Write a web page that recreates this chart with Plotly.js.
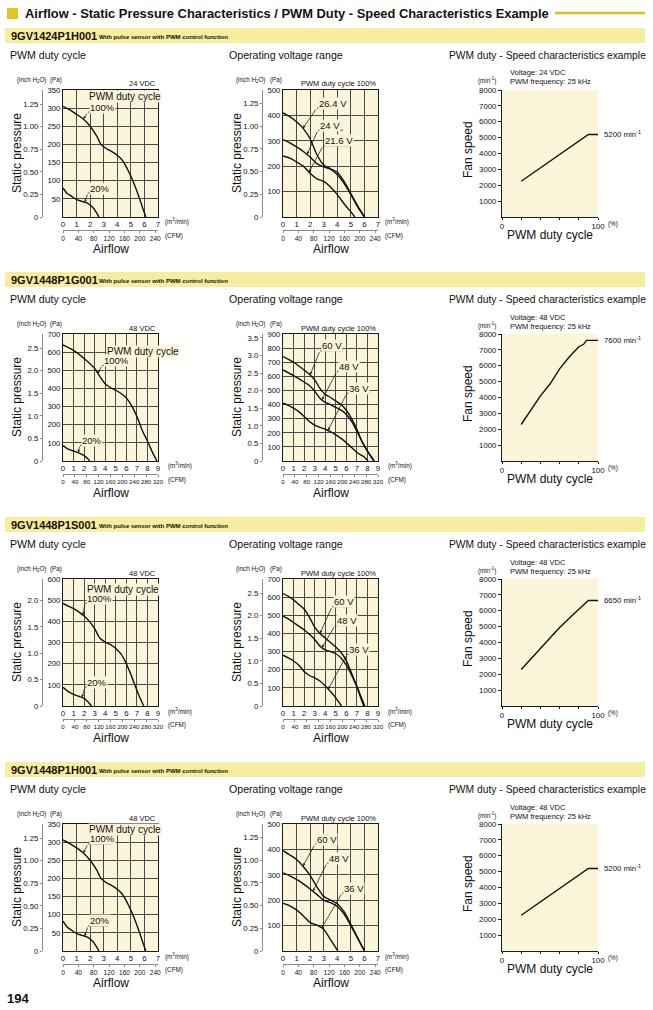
<!DOCTYPE html>
<html><head><meta charset="utf-8">
<script src="https://cdn.plot.ly/plotly-3.0.1.min.js"></script>
<style>html,body{margin:0;padding:0;background:#fff;overflow:hidden}#chart{width:653px;height:1010px}</style>
</head><body><div id="chart"></div>
<script>
// ================= DATA =================
const pageTitle = 'Airflow - Static Pressure Characteristics / PWM Duty - Speed Characteristics Example';
const modelNames = ['9GV1424P1H001', '9GV1448P1G001', '9GV1448P1S001', '9GV1448P1H001'];
const modelNote = 'With pulse sensor with PWM control function';
const ratedVoltages = ['24 VDC', '48 VDC', '48 VDC', '48 VDC'];
const panelTitles = ['PWM duty cycle', 'Operating voltage range', 'PWM duty - Speed characteristics example'];
const pageNumber = '194';

// tick labels
const flowTicks7 = [0, 1, 2, 3, 4, 5, 6, 7];
const flowTicks9 = [0, 1, 2, 3, 4, 5, 6, 7, 8, 9];
const cfmTicks7 = [0, 40, 80, 120, 160, 200, 240];
const cfmTicks9 = [0, 40, 80, 120, 160, 200, 240, 280, 320];
const paTicks350 = [50, 100, 150, 200, 250, 300, 350];
const paTicks500 = [100, 200, 300, 400, 500];
const paTicks600 = [100, 200, 300, 400, 500, 600];
const paTicks700 = [100, 200, 300, 400, 500, 600, 700];
const paTicks900 = [100, 200, 300, 400, 500, 600, 700, 800, 900];
const inchTicksQ = [0, 0.25, 0.5, 0.75, 1, 1.25];
const inchLabelsQ = ['0', '0.25', '0.50', '0.75', '1.00', '1.25'];
const inchTicks20 = [0, 0.5, 1, 1.5, 2];
const inchLabels20 = ['0', '0.5', '1.0', '1.5', '2.0'];
const inchTicks25 = [0, 0.5, 1, 1.5, 2, 2.5];
const inchLabels25 = ['0', '0.5', '1.0', '1.5', '2.0', '2.5'];
const inchTicks35 = [0, 0.5, 1, 1.5, 2, 2.5, 3, 3.5];
const inchLabels35 = ['0', '0.5', '1.0', '1.5', '2.0', '2.5', '3.0', '3.5'];
const speedTicks = [1000, 2000, 3000, 4000, 5000, 6000, 7000, 8000];
const dutyTicks = [0, 20, 40, 60, 80, 100];
const dutyLabels = ['0', '', '', '', '', '100'];

// Row 1: 9GV1424P1H001  (airflow m3/min, static pressure Pa)
const r1Duty100Flow = [0, 0.5, 1, 1.5, 2, 2.5, 2.8, 3.2, 3.6, 4, 4.4, 4.8, 5.2, 5.6, 5.9, 6.1];
const r1Duty100Pa   = [305, 295, 283, 270, 250, 222, 200, 188, 180, 170, 155, 128, 95, 55, 22, 0];
const r1Duty20Flow  = [0, 0.3, 0.6, 1, 1.4, 1.8, 2.2, 2.5, 2.65];
const r1Duty20Pa    = [80, 65, 58, 48, 43, 38, 26, 10, 0];
const r1V264Flow = [0, 0.5, 1, 1.5, 2, 2.5, 3, 3.5, 4, 4.5, 5, 5.5, 6.02];
const r1V264Pa   = [410, 395, 375, 348, 308, 245, 205, 190, 176, 140, 92, 44, 0];
const r1V24Flow  = [0, 0.5, 1, 1.5, 2, 2.5, 3, 3.5, 4, 4.5, 5, 5.5, 6];
const r1V24Pa    = [305, 292, 276, 258, 236, 210, 197, 188, 166, 132, 88, 40, 0];
const r1V216Flow = [0, 0.5, 1, 1.5, 2, 2.5, 3, 3.5, 4, 4.5, 5, 5.3];
const r1V216Pa   = [240, 232, 217, 200, 172, 150, 140, 118, 88, 52, 20, 0];
const r1SpeedDuty = [20, 90, 100];
const r1SpeedRpm  = [2250, 5200, 5200];

// Row 2: 9GV1448P1G001
const r2Duty100Flow = [0, 1, 2, 3, 3.5, 4, 4.5, 5, 5.5, 6, 6.5, 7, 7.5, 8, 8.5, 8.9];
const r2Duty100Pa   = [640, 610, 565, 510, 465, 425, 405, 390, 372, 348, 305, 245, 170, 110, 45, 0];
const r2Duty20Flow  = [0, 0.5, 1, 1.5, 2, 2.3, 2.55];
const r2Duty20Pa    = [85, 65, 55, 45, 30, 15, 0];
const r2V60Flow = [0, 1, 2, 2.5, 3, 3.5, 4, 4.5, 5, 5.5, 6, 6.5, 7, 7.5, 8, 8.6];
const r2V60Pa   = [740, 700, 645, 615, 575, 515, 472, 450, 425, 400, 360, 300, 225, 135, 70, 0];
const r2V48Flow = [0, 1, 2, 2.5, 3, 3.5, 4, 4.5, 5, 5.5, 6, 6.5, 7, 7.5, 8, 8.65];
const r2V48Pa   = [645, 605, 560, 535, 495, 445, 415, 400, 380, 360, 330, 280, 210, 135, 70, 0];
const r2V36Flow = [0, 0.5, 1, 1.5, 2, 2.5, 3, 3.5, 4, 4.5, 5, 5.5, 6, 6.5, 7, 7.5, 7.8, 8.05];
const r2V36Pa   = [410, 395, 375, 350, 315, 280, 255, 238, 225, 208, 185, 160, 130, 95, 60, 38, 22, 0];
const r2SpeedDuty = [20, 30, 40, 50, 55, 60, 70, 80, 85, 88, 100];
const r2SpeedRpm  = [2300, 3200, 4100, 4850, 5300, 5800, 6550, 7200, 7350, 7600, 7600];

// Row 3: 9GV1448P1S001
const r3Duty100Flow = [0, 0.5, 1, 1.5, 2, 2.5, 3, 3.5, 4, 4.5, 5, 5.5, 6, 6.5, 7, 7.3, 7.65];
const r3Duty100Pa   = [485, 472, 460, 445, 425, 400, 365, 320, 302, 290, 272, 245, 200, 140, 75, 38, 0];
const r3Duty20Flow  = [0, 0.5, 1, 1.5, 2, 2.4, 2.7];
const r3Duty20Pa    = [88, 68, 55, 46, 36, 18, 0];
const r3V60Flow = [0, 0.5, 1, 1.5, 2, 2.5, 3, 3.5, 4, 4.5, 5, 5.5, 6, 6.5, 7, 7.4, 7.75];
const r3V60Pa   = [620, 605, 585, 560, 535, 490, 435, 400, 375, 350, 325, 295, 250, 180, 110, 50, 0];
const r3V48Flow = [0, 0.5, 1, 1.5, 2, 2.5, 3, 3.5, 4, 4.5, 5, 5.5, 6, 6.5, 7, 7.3, 7.65];
const r3V48Pa   = [495, 480, 460, 440, 420, 395, 367, 330, 310, 300, 288, 265, 225, 170, 105, 55, 0];
const r3V36Flow = [0, 0.5, 1, 1.5, 2, 2.5, 3, 3.5, 4, 4.5, 5, 5.3, 5.55];
const r3V36Pa   = [280, 265, 248, 225, 190, 168, 155, 138, 112, 80, 45, 20, 0];
const r3SpeedDuty = [20, 40, 60, 80, 90, 100];
const r3SpeedRpm  = [2300, 3600, 4950, 6100, 6650, 6650];

// Row 4: 9GV1448P1H001
const r4Duty100Flow = [0, 0.5, 1, 1.5, 2, 2.5, 2.8, 3.2, 3.6, 4, 4.4, 4.8, 5.2, 5.6, 5.9, 6.1];
const r4Duty100Pa   = [306, 296, 284, 270, 250, 222, 200, 188, 180, 170, 155, 128, 95, 55, 22, 0];
const r4Duty20Flow  = [0, 0.3, 0.6, 1, 1.4, 1.8, 2.2, 2.5, 2.65];
const r4Duty20Pa    = [82, 66, 58, 48, 43, 38, 26, 10, 0];
const r4V60Flow = [0, 0.5, 1, 1.5, 2, 2.5, 3, 3.5, 4, 4.5, 5, 5.5, 6.02];
const r4V60Pa   = [395, 378, 360, 332, 298, 252, 215, 200, 186, 155, 105, 52, 0];
const r4V48Flow = [0, 0.5, 1, 1.5, 2, 2.5, 3, 3.5, 4, 4.5, 5, 5.5, 6];
const r4V48Pa   = [308, 296, 282, 264, 244, 222, 200, 190, 175, 145, 100, 50, 0];
const r4V36Flow = [0, 0.5, 1, 1.5, 2, 2.5, 3, 3.5, 3.8, 4.05];
const r4V36Pa   = [188, 178, 162, 138, 112, 102, 86, 45, 20, 0];
const r4SpeedDuty = [20, 90, 100];
const r4SpeedRpm  = [2250, 5200, 5200];

const CFM_PER_M3 = 35.3147;
const PA_PER_INCH = 249.089;

// ================= FONT PICK (narrowest installed sans for numbers) =================
const SANS = 'Liberation Sans, Arial, Helvetica, sans-serif';
const ctx = document.createElement('canvas').getContext('2d');
function width(font, s) { ctx.font = font; return ctx.measureText(s).width; }
function installed(name) {
  const s = '0123456789 WMmil Static';
  return Math.abs(width('40px "' + name + '", monospace', s) - width('40px monospace', s)) > 0.5 &&
         Math.abs(width('40px "' + name + '", serif', s) - width('40px serif', s)) > 0.5;
}
const narrowCandidates = ['Liberation Sans Narrow', 'Noto Sans ExtraCondensed', 'Noto Sans Condensed',
  'Noto Sans SemiCondensed', 'DejaVu Sans Condensed', 'Liberation Sans'];
let NARROW = 'Liberation Sans', digitEm = 0.556;
narrowCandidates.forEach(f => {
  if (!installed(f)) return;
  const w = width('100px "' + f + '"', '0123456789') / 1000;
  if (w < digitEm - 0.005) { digitEm = w; NARROW = f; }
});
const clamp = (v, a, b) => Math.max(a, Math.min(b, v));
const TICK_SIZE = clamp(3.9 / digitEm, 7.8, 9.5);
const CFM_SIZE7 = clamp(3.55 / digitEm, 6.6, 9);
const CFM_SIZE9 = clamp(3.4 / digitEm, 6.2, 8.5);
const SMALL = clamp(3.0 / digitEm, 6.3, 7.5);

// ================= LAYOUT HELPERS =================
const W = 653, H = 1010;
const PX = x => x / W, PY = y => 1 - y / H;
const bandTops = [28, 272, 517, 762];
const colL = [63, 158], colM = [283, 378], colR = [502, 598];

const CREAM = '#fbf6da', GRID = '#4a4a4a', FRAME = '#1a1a1a', AXG = '#8a8a8a', INK = '#111';
const TICKF = {family: NARROW, size: TICK_SIZE, color: INK};

const traces = [], annotations = [], shapes = [];
const layout = {
  width: W, height: H, margin: {l: 0, r: 0, t: 0, b: 0},
  paper_bgcolor: '#ffffff', plot_bgcolor: CREAM, showlegend: false,
  annotations, shapes
};
let axN = 0;
const axKey = (p, n) => n === 1 ? p + 'axis' : p + 'axis' + n;
const axId = (p, n) => n === 1 ? p : p + n;

function interp(xs, ys, x) {
  for (let i = 1; i < xs.length; i++) {
    if (x <= xs[i]) { const t = (x - xs[i - 1]) / (xs[i] - xs[i - 1]); return ys[i - 1] + t * (ys[i] - ys[i - 1]); }
  }
  return ys[ys.length - 1];
}
function txt(text, x, y, opt) {
  annotations.push(Object.assign({text, x: PX(x), y: PY(y), xref: 'paper', yref: 'paper', showarrow: false,
    xanchor: 'left', yanchor: 'middle', font: {family: SANS, size: 11, color: INK}}, opt || {}));
}

function pqChart(o) {
  const bt = bandTops[o.row], top = bt + 62, bot = bt + 189;
  const [cl, cr] = o.col;
  const n = ++axN, nc = ++axN, ni = ++axN;
  const xid = axId('x', n), yid = axId('y', n);
  const dom = [PX(cl), PX(cr)], ydom = [PY(bot), PY(top)];
  const cfmFont = {family: NARROW, size: o.xmax > 7 ? CFM_SIZE9 : CFM_SIZE7, color: INK};
  layout[axKey('x', n)] = {domain: dom, range: [0, o.xmax], anchor: yid, tickmode: 'array',
    tickvals: o.flowTicks, ticktext: o.flowTicks.map(String), showgrid: true, gridcolor: GRID, gridwidth: 1,
    showline: true, mirror: true, linecolor: FRAME, linewidth: 1, ticks: '', tickangle: 0, tickfont: TICKF, zeroline: false};
  layout[axKey('y', n)] = {domain: ydom, range: [0, o.ymax], anchor: xid, tickmode: 'array',
    tickvals: o.paTicks, ticktext: o.paTicks.map(String), showgrid: true, gridcolor: GRID, gridwidth: 1,
    showline: true, mirror: true, linecolor: FRAME, linewidth: 1, ticks: '', tickfont: TICKF, zeroline: false};
  layout[axKey('x', nc)] = {domain: dom, overlaying: xid, anchor: 'free', position: PY(bt + 202), side: 'bottom',
    range: [0, Math.max(o.xmax * CFM_PER_M3, o.cfmTicks[o.cfmTicks.length - 1])], tickmode: 'array',
    tickvals: o.cfmTicks, ticktext: o.cfmTicks.map(String), showgrid: false, zeroline: false, showline: true,
    linecolor: AXG, linewidth: 1, ticks: 'outside', ticklen: 2, tickcolor: AXG, tickangle: 0, tickfont: cfmFont};
  layout[axKey('y', ni)] = {domain: ydom, overlaying: yid, anchor: 'free', position: PX(cl - 21), side: 'left',
    range: [0, o.inchMax], tickmode: 'array', tickvals: o.inchTicks, ticktext: o.inchLabels, showgrid: false,
    zeroline: false, showline: true, linecolor: AXG, linewidth: 1, ticks: 'outside', ticklen: 2, tickcolor: AXG, tickfont: TICKF};
  traces.push({type: 'scatter', mode: 'lines', x: [], y: [], xaxis: axId('x', nc), yaxis: yid, hoverinfo: 'skip'});
  traces.push({type: 'scatter', mode: 'lines', x: [], y: [], xaxis: xid, yaxis: axId('y', ni), hoverinfo: 'skip'});
  o.series.forEach(s => traces.push({type: 'scatter', mode: 'lines', x: s[0], y: s[1], xaxis: xid, yaxis: yid,
    line: {color: INK, width: 1.4, shape: 'spline', smoothing: 0.6}, hoverinfo: 'skip'}));

  if (o.heading) annotations.push({text: o.heading.text, x: o.heading.x, y: o.heading.y, xref: xid, yref: yid,
    xanchor: 'left', yanchor: 'middle', showarrow: false, bgcolor: CREAM, borderpad: 0,
    font: {family: SANS, size: 10, color: INK}});
  o.labels.forEach(l => {
    const s = o.series[l.s];
    shapes.push({type: 'line', xref: xid, yref: yid, x0: l.x0, x1: l.x1, y0: l.y, y1: l.y, line: {color: '#222', width: 0.8}});
    annotations.push({text: l.text, x: l.x0, y: l.y, xref: xid, yref: yid, xanchor: 'left', yanchor: 'bottom',
      xshift: 1, yshift: -1.5, showarrow: false, bgcolor: CREAM, borderpad: 0, font: {family: SANS, size: 9.5, color: INK}});
    annotations.push({text: '', x: l.tx, y: interp(s[0], s[1], l.tx), xref: xid, yref: yid, ax: l.x0, ay: l.y,
      axref: xid, ayref: yid, showarrow: true, arrowhead: 2, arrowsize: 0.7, arrowwidth: 0.8, arrowcolor: '#222', standoff: 0});
  });
  // axis titles and units
  txt('Static pressure', cl - 46, bt + 125, {textangle: -90, xanchor: 'center', font: {family: SANS, size: 12, color: INK}});
  txt('Airflow', (cl + cr) / 2, bt + 221, {xanchor: 'center', font: {family: SANS, size: 12, color: INK}});
  txt('(inch H<sub>2</sub>O)', cl - 32, bt + 52, {xanchor: 'center', font: {family: NARROW, size: SMALL, color: INK}});
  txt('(Pa)', cl - 7, bt + 52, {xanchor: 'center', font: {family: NARROW, size: SMALL, color: INK}});
  const ux = o.xmax > 7 ? 8 : 5;
  txt('(m<sup>3</sup>/min)', cr + ux, bt + 194, {font: {family: NARROW, size: SMALL, color: INK}});
  txt('(CFM)', cr + ux, bt + 208, {font: {family: NARROW, size: SMALL, color: INK}});
  txt(o.corner, cr, bt + 56, {xanchor: 'right', font: {family: SANS, size: 7.5, color: INK}});
}

function speedChart(o) {
  const bt = bandTops[o.row], top = bt + 62, bot = bt + 189;
  const [cl, cr] = colR;
  const n = ++axN;
  const xid = axId('x', n), yid = axId('y', n);
  layout[axKey('x', n)] = {domain: [PX(cl), PX(cr)], range: [0, 100], anchor: yid, tickmode: 'array',
    tickvals: dutyTicks, ticktext: dutyLabels, showgrid: false, zeroline: false, showline: true, linecolor: FRAME,
    linewidth: 1, ticks: 'outside', ticklen: 2, tickcolor: FRAME, tickangle: 0, tickfont: TICKF};
  layout[axKey('y', n)] = {domain: [PY(bot), PY(top)], range: [0, 8000], anchor: xid, tickmode: 'array',
    tickvals: speedTicks, ticktext: speedTicks.map(String), showgrid: false, zeroline: false, showline: true,
    linecolor: FRAME, linewidth: 1, ticks: 'outside', ticklen: 3, tickcolor: FRAME, tickfont: TICKF};
  traces.push({type: 'scatter', mode: 'lines', x: o.duty, y: o.rpm, xaxis: xid, yaxis: yid,
    line: {color: INK, width: 1.4}, hoverinfo: 'skip'});
  const last = o.rpm[o.rpm.length - 1];
  annotations.push({text: last + ' min<sup>-1</sup>', x: o.duty[o.duty.length - 1], y: last, xref: xid, yref: yid,
    xanchor: 'left', yanchor: 'middle', xshift: 4, showarrow: false, font: {family: NARROW, size: TICK_SIZE, color: INK}});
  txt('Voltage: ' + o.voltage, cl + 6, bt + 45, {font: {family: SANS, size: 7.5, color: INK}});
  txt('PWM frequency: 25 kHz', cl + 6, bt + 54, {font: {family: SANS, size: 7.5, color: INK}});
  txt('(min<sup>-1</sup>)', cl - 15, bt + 53, {xanchor: 'center', font: {family: NARROW, size: SMALL, color: INK}});
  txt('(%)', cr + 8, bt + 196, {font: {family: NARROW, size: SMALL, color: INK}});
  txt('Fan speed', cl - 34, bt + 122, {textangle: -90, xanchor: 'center', font: {family: SANS, size: 12, color: INK}});
  txt('PWM duty cycle', (cl + cr) / 2, bt + 207, {xanchor: 'center', font: {family: SANS, size: 12, color: INK}});
}

// ================= HEADER & BANDS =================
shapes.push({type: 'rect', xref: 'paper', yref: 'paper', x0: PX(7), x1: PX(18), y0: PY(19), y1: PY(8), fillcolor: '#e6c41c', line: {width: 0}});
txt('<b>' + pageTitle + '</b>', 23, 13.5, {font: {family: SANS, size: 12.9, color: INK}});
shapes.push({type: 'line', xref: 'paper', yref: 'paper', x0: PX(555), x1: PX(645), y0: PY(13), y1: PY(13), line: {color: '#d9c01c', width: 2.5}});
bandTops.forEach((bt, i) => {
  shapes.push({type: 'rect', xref: 'paper', yref: 'paper', layer: 'below', x0: PX(5), x1: PX(645), y0: PY(bt + 15), y1: PY(bt), fillcolor: '#f6ed9f', line: {width: 0}});
  txt('<b>' + modelNames[i] + '</b>', 9, bt + 8, {font: {family: SANS, size: 11, color: INK}});
  txt('<b>' + modelNote + '</b>', 97, bt + 8.5, {font: {family: SANS, size: 6, color: INK}});
  txt(panelTitles[0], 8, bt + 27, {font: {family: SANS, size: 10.6, color: INK}});
  txt(panelTitles[1], 227, bt + 27, {font: {family: SANS, size: 10.6, color: INK}});
  txt(panelTitles[2], 447, bt + 27, {font: {family: SANS, size: 10.3, color: INK}});
});
txt('<b>' + pageNumber + '</b>', 5, 998, {font: {family: NARROW, size: clamp(6.2 / digitEm, 13, 15), color: INK}});

// ================= CHARTS =================
const INCH_350 = 350 / PA_PER_INCH;
// Row 1
pqChart({row: 0, col: colL, xmax: 7, ymax: 350, flowTicks: flowTicks7, cfmTicks: cfmTicks7, paTicks: paTicks350,
  inchMax: INCH_350, inchTicks: inchTicksQ, inchLabels: inchLabelsQ, corner: ratedVoltages[0],
  series: [[r1Duty100Flow, r1Duty100Pa], [r1Duty20Flow, r1Duty20Pa]],
  heading: {text: 'PWM duty cycle', x: 1.84, y: 331},
  labels: [{text: '100%', x0: 1.84, x1: 3.68, y: 289, s: 0, tx: 1.5}, {text: '20%', x0: 1.84, x1: 3.32, y: 66, s: 1, tx: 1.6}]});
pqChart({row: 0, col: colM, xmax: 7, ymax: 500, flowTicks: flowTicks7, cfmTicks: cfmTicks7, paTicks: paTicks500,
  inchMax: 1.4, inchTicks: inchTicksQ, inchLabels: inchLabelsQ, corner: 'PWM duty cycle 100%',
  series: [[r1V264Flow, r1V264Pa], [r1V24Flow, r1V24Pa], [r1V216Flow, r1V216Pa]],
  labels: [{text: '26.4 V', x0: 2.5, x1: 4.57, y: 429, s: 0, tx: 1.47}, {text: '24 V', x0: 2.58, x1: 4.42, y: 342, s: 1, tx: 1.77},
           {text: '21.6 V', x0: 2.95, x1: 4.94, y: 280, s: 2, tx: 1.92}]});
speedChart({row: 0, duty: r1SpeedDuty, rpm: r1SpeedRpm, voltage: ratedVoltages[0]});
// Row 2
pqChart({row: 1, col: colL, xmax: 9, ymax: 700, flowTicks: flowTicks9, cfmTicks: cfmTicks9, paTicks: paTicks700,
  inchMax: 700 / PA_PER_INCH, inchTicks: inchTicks25, inchLabels: inchLabels25, corner: ratedVoltages[1],
  series: [[r2Duty100Flow, r2Duty100Pa], [r2Duty20Flow, r2Duty20Pa]],
  heading: {text: 'PWM duty cycle', x: 4.07, y: 603},
  labels: [{text: '100%', x0: 3.69, x1: 6.06, y: 526, s: 0, tx: 3.3}, {text: '20%', x0: 1.61, x1: 3.5, y: 87, s: 1, tx: 1.44}]});
pqChart({row: 1, col: colM, xmax: 9, ymax: 900, flowTicks: flowTicks9, cfmTicks: cfmTicks9, paTicks: paTicks900,
  inchMax: 900 / PA_PER_INCH, inchTicks: inchTicks35, inchLabels: inchLabels35, corner: 'PWM duty cycle 100%',
  series: [[r2V60Flow, r2V60Pa], [r2V48Flow, r2V48Pa], [r2V36Flow, r2V36Pa]],
  labels: [{text: '60 V', x0: 3.5, x1: 5.68, y: 781, s: 0, tx: 2.56}, {text: '48 V', x0: 5.11, x1: 7.1, y: 635, s: 1, tx: 3.7},
           {text: '36 V', x0: 6.06, x1: 8.24, y: 481, s: 2, tx: 4.26}]});
speedChart({row: 1, duty: r2SpeedDuty, rpm: r2SpeedRpm, voltage: ratedVoltages[1]});
// Row 3
pqChart({row: 2, col: colL, xmax: 9, ymax: 600, flowTicks: flowTicks9, cfmTicks: cfmTicks9, paTicks: paTicks600,
  inchMax: 600 / PA_PER_INCH, inchTicks: inchTicks20, inchLabels: inchLabels20, corner: ratedVoltages[2],
  series: [[r3Duty100Flow, r3Duty100Pa], [r3Duty20Flow, r3Duty20Pa]],
  heading: {text: 'PWM duty cycle', x: 2.18, y: 552},
  labels: [{text: '100%', x0: 2.08, x1: 4.64, y: 485, s: 0, tx: 1.9}, {text: '20%', x0: 2.08, x1: 4.17, y: 89, s: 1, tx: 1.8}]});
pqChart({row: 2, col: colM, xmax: 9, ymax: 700, flowTicks: flowTicks9, cfmTicks: cfmTicks9, paTicks: paTicks700,
  inchMax: 700 / PA_PER_INCH, inchTicks: inchTicks25, inchLabels: inchLabels25, corner: 'PWM duty cycle 100%',
  series: [[r3V60Flow, r3V60Pa], [r3V48Flow, r3V48Pa], [r3V36Flow, r3V36Pa]],
  labels: [{text: '60 V', x0: 4.64, x1: 6.53, y: 547, s: 0, tx: 3.5}, {text: '48 V', x0: 4.92, x1: 6.82, y: 443, s: 1, tx: 3.7},
           {text: '36 V', x0: 6.06, x1: 7.95, y: 284, s: 2, tx: 4.3}]});
speedChart({row: 2, duty: r3SpeedDuty, rpm: r3SpeedRpm, voltage: ratedVoltages[2]});
// Row 4
pqChart({row: 3, col: colL, xmax: 7, ymax: 350, flowTicks: flowTicks7, cfmTicks: cfmTicks7, paTicks: paTicks350,
  inchMax: INCH_350, inchTicks: inchTicksQ, inchLabels: inchLabelsQ, corner: ratedVoltages[3],
  series: [[r4Duty100Flow, r4Duty100Pa], [r4Duty20Flow, r4Duty20Pa]],
  heading: {text: 'PWM duty cycle', x: 1.84, y: 334},
  labels: [{text: '100%', x0: 1.84, x1: 3.68, y: 295, s: 0, tx: 1.5}, {text: '20%', x0: 1.84, x1: 3.32, y: 69, s: 1, tx: 1.6}]});
pqChart({row: 3, col: colM, xmax: 7, ymax: 500, flowTicks: flowTicks7, cfmTicks: cfmTicks7, paTicks: paTicks500,
  inchMax: 1.4, inchTicks: inchTicksQ, inchLabels: inchLabelsQ, corner: 'PWM duty cycle 100%',
  series: [[r4V60Flow, r4V60Pa], [r4V48Flow, r4V48Pa], [r4V36Flow, r4V36Pa]],
  labels: [{text: '60 V', x0: 2.36, x1: 3.83, y: 421, s: 0, tx: 1.47}, {text: '48 V', x0: 3.24, x1: 4.72, y: 346, s: 1, tx: 2.2},
           {text: '36 V', x0: 4.35, x1: 5.9, y: 228, s: 2, tx: 2.85}]});
speedChart({row: 3, duty: r4SpeedDuty, rpm: r4SpeedRpm, voltage: ratedVoltages[3]});

Plotly.newPlot('chart', traces, layout, {staticPlot: true, displayModeBar: false});
</script></body></html>
